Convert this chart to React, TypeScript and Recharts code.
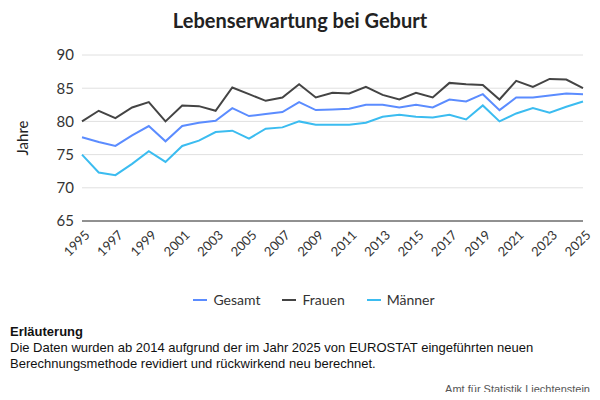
import React from "react";
import { LineChart, Line, XAxis, YAxis, CartesianGrid, Legend } from "recharts";

const years = Array.from({ length: 31 }, (_, i) => String(1995 + i));
const gesamt = [77.6, 76.9, 76.3, 77.9, 79.3, 77.0, 79.3, 79.8, 80.1, 82.0, 80.8, 81.1, 81.4, 82.9, 81.7, 81.8, 81.9, 82.5, 82.5, 82.1, 82.5, 82.1, 83.3, 83.0, 84.1, 81.7, 83.6, 83.6, 83.9, 84.2, 84.1];
const frauen = [80.0, 81.6, 80.5, 82.1, 82.9, 80.0, 82.4, 82.3, 81.6, 85.1, 84.1, 83.1, 83.6, 85.6, 83.6, 84.3, 84.2, 85.2, 84.0, 83.3, 84.3, 83.6, 85.8, 85.6, 85.5, 83.3, 86.1, 85.2, 86.4, 86.3, 85.0];
const maenner = [75.0, 72.3, 71.9, 73.6, 75.5, 73.9, 76.3, 77.1, 78.4, 78.6, 77.4, 78.9, 79.1, 80.0, 79.5, 79.5, 79.5, 79.8, 80.7, 81.0, 80.7, 80.6, 81.0, 80.3, 82.4, 80.0, 81.2, 82.0, 81.3, 82.2, 83.0];
const yTicks = [65, 70, 75, 80, 85, 90];
const series = [
  { key: "Gesamt", color: "#5b8cff" },
  { key: "Frauen", color: "#444444" },
  { key: "Männer", color: "#3bbcf0" },
];

const data = years.map((y, i) => ({ year: y, Gesamt: gesamt[i], Frauen: frauen[i], Männer: maenner[i] }));
const font = "Lato, 'Noto Sans', sans-serif";

const XTick = (props: any) => {
  const { x, y, payload } = props;
  return (
    <text x={x} y={y + 4} textAnchor="end" transform={`rotate(-45 ${x} ${y + 4})`} fontSize={13} fill="#333" dy={8} dx={4}>
      {payload.value}
    </text>
  );
};

const LegendContent = () => (
  <div style={{ display: "flex", justifyContent: "center", gap: 22, fontSize: 14, color: "#333", paddingLeft: 40 }}>
    {series.map((s) => (
      <div key={s.key} style={{ display: "flex", alignItems: "center", gap: 6 }}>
        <span style={{ display: "inline-block", width: 14, height: 2, background: s.color }} />
        {s.key}
      </div>
    ))}
  </div>
);

export default function App() {
  return (
    <div style={{ width: 600, height: 400, position: "relative", fontFamily: font, margin: -8, background: "#fff" }}>
      <div style={{ position: "absolute", top: 8, width: 600, textAlign: "center", fontSize: 20, fontWeight: 700, color: "#222" }}>
        Lebenserwartung bei Geburt
      </div>
      <div style={{ position: "absolute", top: 0, left: 0 }}>
        <LineChart width={600} height={308} data={data} margin={{ top: 55, right: 17, left: 5, bottom: 0 }} style={{ fontFamily: font }}>
          <CartesianGrid vertical={false} stroke="#e0e0e0" />
          <XAxis dataKey="year" interval={1} tick={<XTick />} tickLine={false} axisLine={{ stroke: "#333" }} height={70} />
          <YAxis domain={[65, 90]} ticks={yTicks} tick={{ fontSize: 15, fill: "#333" }} axisLine={false} tickLine={false} width={77}
            label={{ value: "Jahre", angle: -90, position: "insideLeft", offset: 18, style: { fontSize: 15, fill: "#222", textAnchor: "middle" } }} />
          <Legend verticalAlign="bottom" content={<LegendContent />} wrapperStyle={{ bottom: 0 }} />
          {series.map((s) => (
            <Line key={s.key} dataKey={s.key} stroke={s.color} strokeWidth={2} dot={false} isAnimationActive={false} />
          ))}
        </LineChart>
      </div>
      <div style={{ position: "absolute", top: 324, left: 10, fontSize: 13, color: "#111", fontFamily: "'Liberation Sans', Arial, sans-serif", lineHeight: "16px" }}>
        <div style={{ fontWeight: 700 }}>Erläuterung</div>
        <div>Die Daten wurden ab 2014 aufgrund der im Jahr 2025 von EUROSTAT eingeführten neuen</div>
        <div>Berechnungsmethode revidiert und rückwirkend neu berechnet.</div>
      </div>
      <div style={{ position: "absolute", top: 383, right: 10, fontSize: 11, color: "#555", fontFamily: "'Liberation Sans', Arial, sans-serif" }}>
        Amt für Statistik Liechtenstein
      </div>
    </div>
  );
}
